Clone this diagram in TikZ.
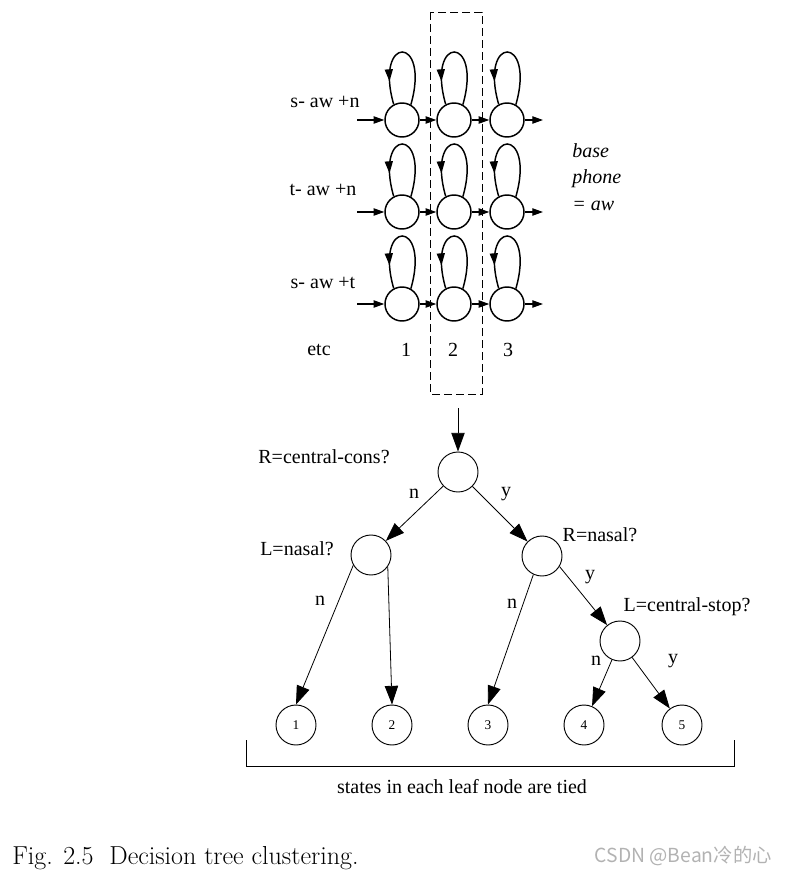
\documentclass[tikz,border=0pt]{standalone}
\usepackage{fontspec}
\newfontfamily\timesfont{Liberation Serif}
\newfontfamily\cjkfont{Noto Sans CJK SC}
\usetikzlibrary{arrows.meta, decorations.markings, positioning}

\begin{document}
\begin{tikzpicture}[x=0.75pt, y=-0.75pt,
  state/.style={draw, circle, line width=1.1pt, minimum size=25.5pt, inner sep=0pt},
  qnode/.style={draw, circle, line width=0.7pt, minimum size=30pt, inner sep=0pt,
                font=\timesfont\fontsize{10}{11}\selectfont},
  lbl/.style={font=\timesfont\fontsize{15}{17}\selectfont, inner sep=0pt},
  hmmarrow/.style={-{Triangle[length=8pt, width=5.5pt]}, line width=0.9pt},
  selfloop/.style={line width=1.1pt, postaction={decorate},
                   decoration={markings, mark=at position 0.8 with
                   {\arrow{Triangle[length=9pt, width=6pt]}}}},
  treearrow/.style={-{Triangle[length=14pt, width=10pt]}, line width=0.6pt},
]
  \useasboundingbox (0,0) rectangle (788,873);

  % Triphone models: three states each
  \node[state] (a1) at (402,120) {};
  \node[state] (b1) at (454,120) {};
  \node[state] (c1) at (507,120) {};
  \node[state] (a2) at (402,212) {};
  \node[state] (b2) at (454,212) {};
  \node[state] (c2) at (507,212) {};
  \node[state] (a3) at (402,304) {};
  \node[state] (b3) at (454,304) {};
  \node[state] (c3) at (507,304) {};

  \node[lbl] (tri1) at (325,102) {s- aw +n};
  \node[lbl] (tri2) at (323,190) {t- aw +n};
  \node[lbl] (tri3) at (323,283) {s- aw +t};
  \node[lbl] (etc) at (319,350) {etc};
  \node[lbl] (col1) at (406,350) {1};
  \node[lbl] (col2) at (453,350) {2};
  \node[lbl] (col3) at (508,350) {3};

  \node[lbl, font=\timesfont\itshape\fontsize{15}{20}\selectfont, align=left,
        anchor=north west] (base) at (572,143) {base\\phone\\= aw};

  % transitions
  \coordinate (in1) at (357,120);  \coordinate (out1) at (543,120);
  \coordinate (in2) at (357,212);  \coordinate (out2) at (543,212);
  \coordinate (in3) at (357,304);  \coordinate (out3) at (543,304);
  \draw[hmmarrow] (in1) -- (a1);
  \draw[hmmarrow] (a1) -- (b1);
  \draw[hmmarrow] (b1) -- (c1);
  \draw[hmmarrow] (c1) -- (out1);
  \draw[hmmarrow] (in2) -- (a2);
  \draw[hmmarrow] (a2) -- (b2);
  \draw[hmmarrow] (b2) -- (c2);
  \draw[hmmarrow] (c2) -- (out2);
  \draw[hmmarrow] (in3) -- (a3);
  \draw[hmmarrow] (a3) -- (b3);
  \draw[hmmarrow] (b3) -- (c3);
  \draw[hmmarrow] (c3) -- (out3);

  % self loops
  \draw[selfloop] (a1.60) .. controls +(20,-70) and +(-20,-70) .. (a1.118);
  \draw[selfloop] (b1.60) .. controls +(20,-70) and +(-20,-70) .. (b1.118);
  \draw[selfloop] (c1.60) .. controls +(20,-70) and +(-20,-70) .. (c1.118);
  \draw[selfloop] (a2.60) .. controls +(20,-70) and +(-20,-70) .. (a2.118);
  \draw[selfloop] (b2.60) .. controls +(20,-70) and +(-20,-70) .. (b2.118);
  \draw[selfloop] (c2.60) .. controls +(20,-70) and +(-20,-70) .. (c2.118);
  \draw[selfloop] (a3.60) .. controls +(20,-70) and +(-20,-70) .. (a3.118);
  \draw[selfloop] (b3.60) .. controls +(20,-70) and +(-20,-70) .. (b3.118);
  \draw[selfloop] (c3.60) .. controls +(20,-70) and +(-20,-70) .. (c3.118);

  % state 2 selected
  \draw[dashed, dash pattern=on 6pt off 3pt, line width=0.7pt] (430,12) rectangle (482,394);

  % Decision tree
  \node[qnode] (root) at (458,472) {};
  \node[qnode] (lnas) at (371,555) {};
  \node[qnode] (rnas) at (542,556) {};
  \node[qnode] (lstop) at (620,641) {};
  \node[qnode] (leaf1) at (296,725) {1};
  \node[qnode] (leaf2) at (392,725) {2};
  \node[qnode] (leaf3) at (488,725) {3};
  \node[qnode] (leaf4) at (584,725) {4};
  \node[qnode] (leaf5) at (682,725) {5};

  \node[lbl] (qroot) at (324,457) {R=central-cons?};
  \node[lbl] (qlnas) at (297,549) {L=nasal?};
  \node[lbl] (qrnas) at (600,535) {R=nasal?};
  \node[lbl] (qlstop) at (687,607) {L=central-stop?};

  \coordinate (top) at (458,408);
  \draw[treearrow] (top) -- (root);
  \draw[treearrow] (root) -- (lnas);
  \draw[treearrow] (root) -- (rnas);
  \draw[treearrow] (lnas.210) -- (leaf1.north);
  \draw[treearrow] (lnas.-35) -- (leaf2.north);
  \draw[treearrow] (rnas.245) -- (leaf3.north);
  \draw[treearrow] (rnas.-31) -- (lstop);
  \draw[treearrow] (lstop) -- (leaf4);
  \draw[treearrow] (lstop) -- (leaf5);

  \node[lbl] (n1) at (414,494) {n};
  \node[lbl] (y1) at (506,494) {y};
  \node[lbl] (n2) at (320,601) {n};
  \node[lbl] (n3) at (512,604) {n};
  \node[lbl] (y2) at (590,577) {y};
  \node[lbl] (n4) at (596,661) {n};
  \node[lbl] (y3) at (673,661) {y};

  % tied leaves
  \draw[line width=0.7pt] (246,740) -- (246,766) -- (734,766) -- (734,740);
  \node[lbl] (tied) at (462,787) {states in each leaf node are tied};

  % caption
  \node[anchor=west, inner sep=0pt, font=\fontsize{19.5}{23}\selectfont] (caption)
    at (12,858) {Fig. 2.5\ \ Decision tree clustering.};
  \node[anchor=east, inner sep=0pt, text=black!30, font=\cjkfont\fontsize{14.5}{17}\selectfont]
    (mark) at (772,856) {CSDN @Bean冷的心};
\end{tikzpicture}
\end{document}
